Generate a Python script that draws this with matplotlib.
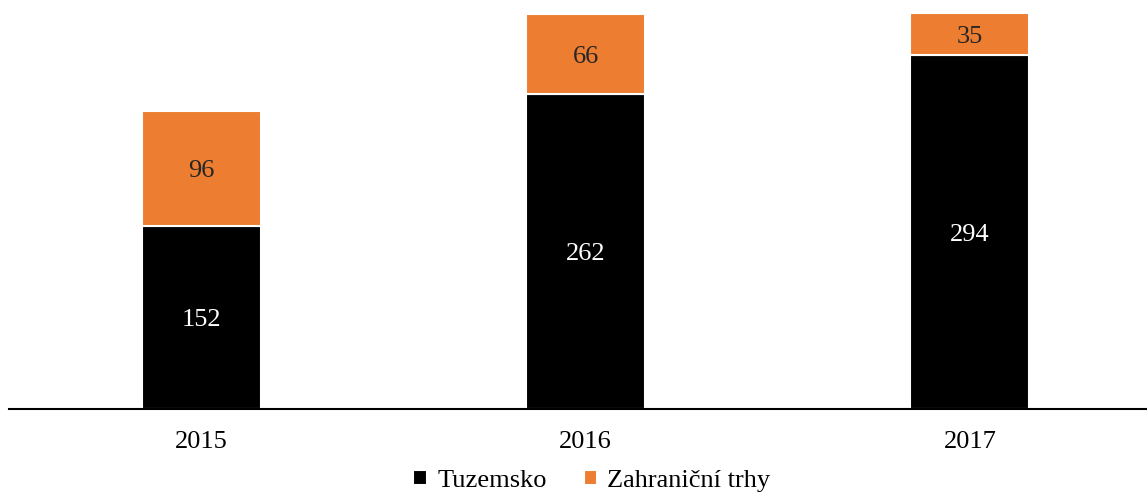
import numpy as np
import matplotlib.pyplot as plt

years = ['2015', '2016', '2017']
tuzemsko = [152, 262, 294]
zahranicni = [96, 66, 35]

plt.rcParams['font.family'] = ['Liberation Serif', 'DejaVu Serif']

fig = plt.figure(figsize=(11.47, 4.93), dpi=100)
ax = fig.add_axes([9 / 1147, 84 / 493, 1153 / 1147, 409 / 493])

x = np.arange(len(years))
w = 0.31
b1 = ax.bar(x, tuzemsko, w, color='black', edgecolor='white', linewidth=1.5, label='Tuzemsko')
b2 = ax.bar(x, zahranicni, w, bottom=tuzemsko, color='#ED7D31', edgecolor='white', linewidth=1.5,
            label='Zahraniční trhy')

for xi, t, z in zip(x, tuzemsko, zahranicni):
    ax.text(xi, t / 2, str(t), ha='center', va='center_baseline', color='white', fontsize=19)
    ax.text(xi, t + z / 2, str(z), ha='center', va='center_baseline', color='#262626', fontsize=19)

ax.set_xlim(-0.5, 2.5)
ax.set_ylim(0, 340)
ax.set_xticks(x)
ax.set_xticklabels(years, fontsize=19)
ax.tick_params(axis='x', length=0, pad=16)
ax.set_yticks([])
for s in ['top', 'right', 'left']:
    ax.spines[s].set_visible(False)
ax.spines['bottom'].set_linewidth(1.5)

leg = fig.legend(handles=[b1, b2], loc='center', bbox_to_anchor=(592 / 1147, 1 - 481 / 493), ncol=2,
                 frameon=False, fontsize=19, handlelength=0.5, handleheight=0.5,
                 handletextpad=0.4, columnspacing=1.4)

fig.savefig('out.png', dpi=100)
